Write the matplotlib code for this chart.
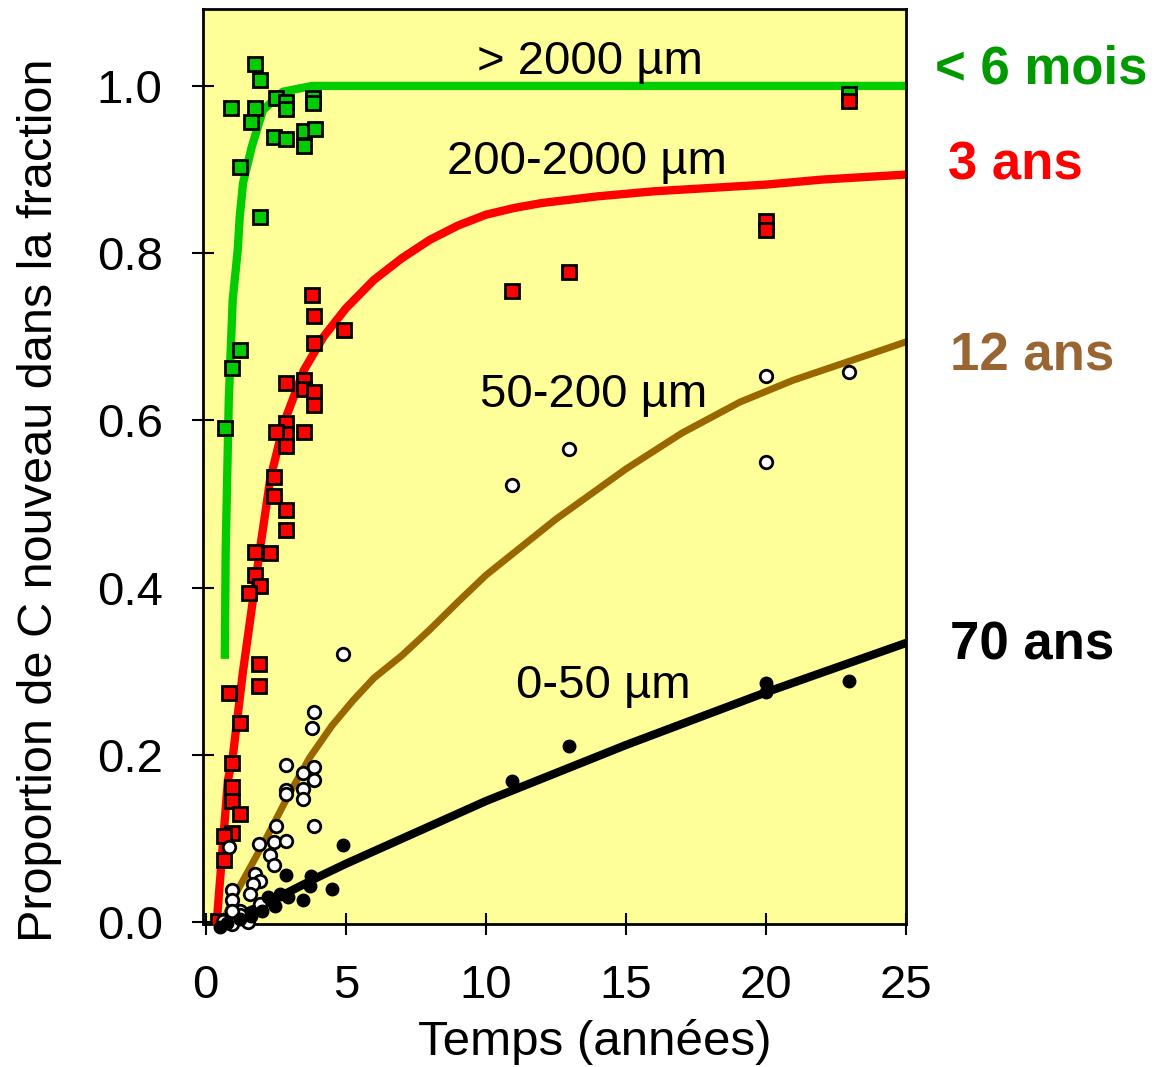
import matplotlib
matplotlib.use("Agg")
import matplotlib.pyplot as plt
import numpy as np

plt.rcParams['font.family'] = ['Liberation Sans', 'DejaVu Sans']

# courbes ajustées
green_x = [0.68, 0.71, 0.82, 0.96, 1.14, 1.21, 1.33, 1.64, 2.04, 2.75, 3.8, 25]
green_y = [0.32, 0.445, 0.624, 0.744, 0.804, 0.843, 0.884, 0.927, 0.971, 0.993, 1.0, 1.0]

red_x = [0.39, 0.79, 0.96, 1.32, 1.93, 2.3, 2.82, 3.5, 4.2, 5, 6, 7, 8, 9, 10, 11, 12,
         14, 16, 18, 20, 22, 25]
red_y = [0.0, 0.17, 0.197, 0.298, 0.445, 0.53, 0.6, 0.66, 0.70, 0.734, 0.768, 0.794,
         0.816, 0.833, 0.846, 0.854, 0.86, 0.868, 0.874, 0.878, 0.882, 0.888, 0.894]

brown_x = [0.6, 1.0, 2.18, 3.0, 3.71, 4.5, 5.25, 6, 7, 8, 9, 10, 12.5, 15, 17, 19.07,
           20.96, 22.9, 25]
brown_y = [0.0, 0.03, 0.102, 0.155, 0.197, 0.235, 0.265, 0.292, 0.319, 0.35, 0.383,
           0.415, 0.482, 0.542, 0.585, 0.622, 0.648, 0.67, 0.694]

black_x = [0.5, 2, 3, 4, 5, 7, 10, 15, 20, 25]
black_y = [0.0, 0.02, 0.037, 0.054, 0.07, 0.1, 0.145, 0.212, 0.275, 0.334]

# mesures > 2000 um
g_x = [1.77, 1.92, 2.52, 2.88, 2.88, 3.81, 3.81, 0.90, 1.77, 1.61, 2.44, 2.86, 3.49, 3.89,
       3.49, 1.21, 1.92, 1.21, 0.93, 0.68, 22.96]
g_y = [1.026, 1.007, 0.986, 0.981, 0.972, 0.986, 0.980, 0.973, 0.973, 0.957, 0.939, 0.936,
       0.946, 0.949, 0.928, 0.903, 0.843, 0.684, 0.663, 0.591, 0.99]

# mesures 200-2000 um
r_x = [22.96, 20, 20, 12.96, 10.93, 4.93, 3.79, 3.86, 3.86, 3.5, 3.5, 3.86, 3.86, 2.86, 2.86,
       2.86, 2.86, 2.86, 2.86, 2.5, 3.5, 2.43, 2.43, 1.75, 2.29, 1.75, 1.93, 1.55, 1.9, 1.9,
       0.83, 1.21, 0.92, 0.92, 0.92, 1.21, 0.92, 0.64, 0.64, 0.43]
r_y = [0.982, 0.839, 0.828, 0.778, 0.755, 0.708, 0.75, 0.725, 0.693, 0.648, 0.638, 0.634,
       0.618, 0.645, 0.597, 0.584, 0.569, 0.493, 0.469, 0.586, 0.586, 0.532, 0.51, 0.443,
       0.441, 0.415, 0.402, 0.394, 0.309, 0.283, 0.274, 0.238, 0.191, 0.162, 0.145, 0.13,
       0.107, 0.103, 0.075, 0.002]

# mesures 50-200 um
w_x = [22.96, 20, 20, 12.96, 10.93, 4.9, 3.86, 3.8, 2.86, 3.48, 3.86, 3.86, 2.86, 2.86,
       3.48, 3.48, 3.86, 2.5, 1.9, 2.43, 2.88, 0.83, 2.29, 2.43, 1.75, 1.93, 1.69, 0.92,
       0.92, 1.57, 1.93, 1.21, 1.21, 0.92, 0.6, 0.92, 1.51]
w_y = [0.658, 0.653, 0.55, 0.566, 0.523, 0.321, 0.251, 0.232, 0.188, 0.179, 0.186, 0.17,
       0.158, 0.154, 0.16, 0.148, 0.115, 0.115, 0.094, 0.096, 0.097, 0.09, 0.08, 0.068,
       0.058, 0.049, 0.046, 0.039, 0.027, 0.034, 0.022, 0.014, 0.009, 0.014, 0.002,
       -0.002, 0.0]

# mesures 0-50 um
k_x = [22.96, 20, 20, 12.96, 10.93, 4.9, 4.49, 3.77, 3.71, 3.48, 2.94, 2.88, 2.64, 2.46,
       2.35, 2.23, 1.99, 1.63, 1.21, 0.74, 0.5]
k_y = [0.288, 0.286, 0.275, 0.211, 0.169, 0.092, 0.04, 0.055, 0.044, 0.027, 0.03, 0.057,
       0.034, 0.02, 0.026, 0.03, 0.014, 0.008, 0.004, -0.001, -0.006]

fig = plt.figure(figsize=(11.62, 10.67), dpi=100)
ax = fig.add_axes([0.1747, 0.134, 0.605, 0.8576])
ax.set_facecolor('#FFFF99')

ax.plot(green_x, green_y, color='#00CC00', lw=6, zorder=2)
ax.plot(red_x, red_y, color='#FF0000', lw=6, zorder=2)
ax.plot(brown_x, brown_y, color='#996600', lw=5, zorder=2)
ax.plot(black_x, black_y, color='black', lw=6, zorder=2)

ax.plot(g_x, g_y, 's', ms=9.5, mfc='#00CC00', mec='black', mew=2, zorder=3)
ax.plot(r_x, r_y, 's', ms=9.5, mfc='#FF0000', mec='black', mew=2, zorder=3)
ax.plot(w_x, w_y, 'o', ms=9, mfc='white', mec='black', mew=2, zorder=3, clip_on=False)
ax.plot(k_x, k_y, 'o', ms=9, mfc='black', mec='black', mew=1, zorder=3, clip_on=False)

ax.text(13.7, 1.029, '> 2000 µm', fontsize=34, ha='center', va='center')
ax.text(13.6, 0.909, '200-2000 µm', fontsize=34, ha='center', va='center')
ax.text(13.86, 0.630, '50-200 µm', fontsize=34, ha='center', va='center')
ax.text(14.2, 0.283, '0-50 µm', fontsize=34, ha='center', va='center')

ax.text(26.04, 1.02, '< 6 mois', fontsize=38, fontweight='bold', color='#009900',
        ha='left', va='center', clip_on=False)
ax.text(26.5, 0.905, '3 ans', fontsize=38, fontweight='bold', color='#FF0000',
        ha='left', va='center', clip_on=False)
ax.text(26.57, 0.676, '12 ans', fontsize=38, fontweight='bold', color='#996633',
        ha='left', va='center', clip_on=False)
ax.text(26.57, 0.331, '70 ans', fontsize=38, fontweight='bold', color='black',
        ha='left', va='center', clip_on=False)

ax.set_xlim(-0.1, 25)
ax.set_ylim(-0.002, 1.092)
ax.set_xticks([0, 5, 10, 15, 20, 25])
ax.set_yticks([0.0, 0.2, 0.4, 0.6, 0.8, 1.0])
ax.set_yticklabels(['0.0', '0.2', '0.4', '0.6', '0.8', '1.0'])
ax.tick_params(direction='inout', length=16, width=1.5, labelsize=34, pad=21)
for s in ax.spines.values():
    s.set_linewidth(2)

ax.set_xlabel('Temps (années)', fontsize=35.5)
ax.set_ylabel('Proportion de C nouveau dans la fraction', fontsize=35)
ax.xaxis.set_label_coords(0.557, -0.129)
ax.xaxis.label.set_verticalalignment('center')
ax.yaxis.set_label_coords(-0.232, 0.463)
ax.yaxis.label.set_verticalalignment('center')

fig.savefig('out.png', dpi=100)
